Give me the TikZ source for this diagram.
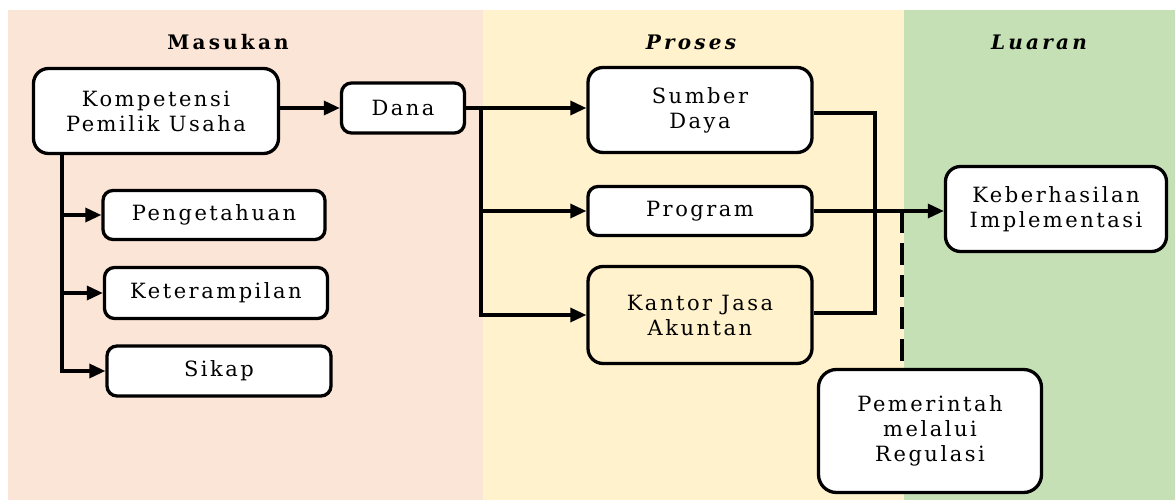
\documentclass[tikz,border=0pt]{standalone}
\usepackage{fontspec}
\setmainfont{DejaVu Serif}[LetterSpace=12]
\usetikzlibrary{arrows.meta,calc}
\definecolor{pinkbg}{HTML}{FBE5D6}
\definecolor{yellowbg}{HTML}{FFF2CC}
\definecolor{greenbg}{HTML}{C5E0B4}
\tikzset{
  box/.style={draw=black, line width=3.3pt, fill=white, align=center, inner sep=0pt,
    font=\fontsize{21}{25}\selectfont},
  ln/.style={draw=black, line width=3.3pt},
  arr/.style={ln, -{Triangle[length=16pt,width=14pt]}},
  dashln/.style={ln, dash pattern=on 22pt off 10pt},
  title/.style={font=\fontsize{20}{22}\selectfont\bfseries\addfontfeatures{LetterSpace=16}}
}
\begin{document}
\begin{tikzpicture}[x=1pt,y=-1pt]
\useasboundingbox (0,0) rectangle (1175,500);
\fill[white] (0,0) rectangle (1175,500);
\fill[pinkbg] (8,10) rectangle (483,500);
\fill[yellowbg] (483,10) rectangle (904,500);
\fill[greenbg] (904,10) rectangle (1175,500);

\node[title] (tm) at (228,42) {Masukan};
\node[title] (tp) at (691,42) {\itshape Proses};
\node[title] (tl) at (1039,42) {\itshape Luaran};

\node[box, rounded corners=15pt, minimum width=245pt, minimum height=85pt] (komp) at (156,111) {Kompetensi\\Pemilik Usaha};
\node[box, rounded corners=10pt, minimum width=123pt, minimum height=50pt] (dana) at (403,108) {Dana};
\node[box, rounded corners=10pt, minimum width=222pt, minimum height=49pt] (peng) at (214,215) {Pengetahuan};
\node[box, rounded corners=10pt, minimum width=223pt, minimum height=51pt] (ket) at (216,293) {Keterampilan};
\node[box, rounded corners=10pt, minimum width=224pt, minimum height=50pt] (sik) at (219,371) {Sikap};

\node[box, rounded corners=15pt, minimum width=224pt, minimum height=85pt] (sd) at (700,110) {Sumber\\Daya};
\node[box, rounded corners=10pt, minimum width=224pt, minimum height=49pt] (prog) at (700,211) {Program};
\node[box, fill=none, rounded corners=15pt, minimum width=224pt, minimum height=97pt] (kja) at (700,315) {Kantor Jasa\\Akuntan};

\node[box, rounded corners=15pt, minimum width=221pt, minimum height=85pt] (keb) at (1056,209) {Keberhasilan\\Implementasi};
\node[box, rounded corners=18pt, minimum width=223pt, minimum height=123pt] (pem) at (930,431) {Pemerintah\\melalui\\Regulasi};

% Masukan connectors
\draw[arr] (komp.east |- dana.west) -- (dana.west);
\coordinate (vx) at (62,0);
\draw[ln] (vx |- komp.south) |- ($(sik.west)+(-10,0)$);
\draw[arr] (vx |- sik.west) -- (sik.west);
\draw[arr] (vx |- peng.west) -- (peng.west);
\draw[arr] (vx |- ket.west) -- (ket.west);

% Dana branches
\coordinate (bx) at (481,0);
\draw[arr] (dana.east) -- (dana.east -| sd.west);
\draw[ln] (bx |- dana.east) |- ($(kja.west)+(-10,0)$);
\draw[arr] (bx |- kja.west) -- (kja.west);
\draw[arr] (bx |- prog.west) -- (prog.west);

% Proses to output
\coordinate (rx) at (875,0);
\draw[ln] ($(sd.east)+(0,3)$) -| ($(rx |- kja.east)+(0,-2)$) -- ($(kja.east)+(0,-2)$);
\draw[arr] (prog.east) -- (keb.west |- prog.east);
\coordinate (dx) at (902,0);
\draw[dashln] (dx |- prog.east) -- (dx |- pem.north);
\end{tikzpicture}
\end{document}
